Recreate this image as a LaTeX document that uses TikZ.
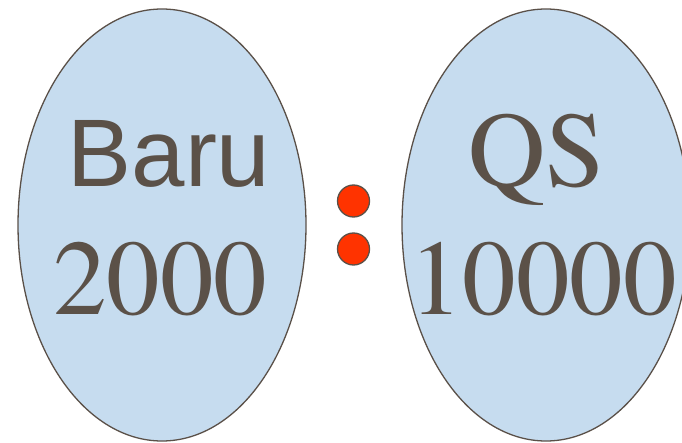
\documentclass[tikz,border=0pt]{standalone}
\usepackage{fontspec}
\setmainfont{texgyretermes-regular.otf}
\newfontfamily\timesfont{texgyretermes-regular.otf}
\newfontfamily\arialfont{Liberation Sans}
\definecolor{ovalfill}{HTML}{C6DCEF}
\definecolor{ovaledge}{HTML}{5A5048}
\definecolor{txtgray}{HTML}{5B5148}
\definecolor{dotred}{HTML}{FF3300}
\tikzset{
  oval/.style={fill=ovalfill,draw=ovaledge,line width=1.3pt},
  bigtxt/.style={text=txtgray,anchor=base,inner sep=0pt,font=\timesfont\fontsize{107}{107}\selectfont},
  ratiodot/.style={circle,fill=dotred,draw=ovaledge,line width=1.3pt,minimum size=32pt,inner sep=0pt}
}
\begin{document}
\begin{tikzpicture}[x=1pt,y=1pt,line join=round,line cap=round]
                \useasboundingbox (0,0) rectangle (682,442);
                \clip (0,0) rectangle (682,442);
                % the two sets
                \draw[oval] (162,217) ellipse (144 and 216);
                \draw[oval] (546,217) ellipse (144 and 216);
                % labels
                \node[bigtxt,font=\arialfont\fontsize{96}{96}\selectfont] (baru) at (169,255) {Baru};
                \node[bigtxt] (baruval) at (160,128) {2000};
                \node[bigtxt] (qs) at (537,255) {QS};
                \node[bigtxt] (qsval) at (543,128) {10000};
                % ratio sign
                \node[ratiodot] (dottop) at (353.5,241) {};
                \node[ratiodot] (dotbot) at (353.5,193) {};
\end{tikzpicture}
\end{document}
